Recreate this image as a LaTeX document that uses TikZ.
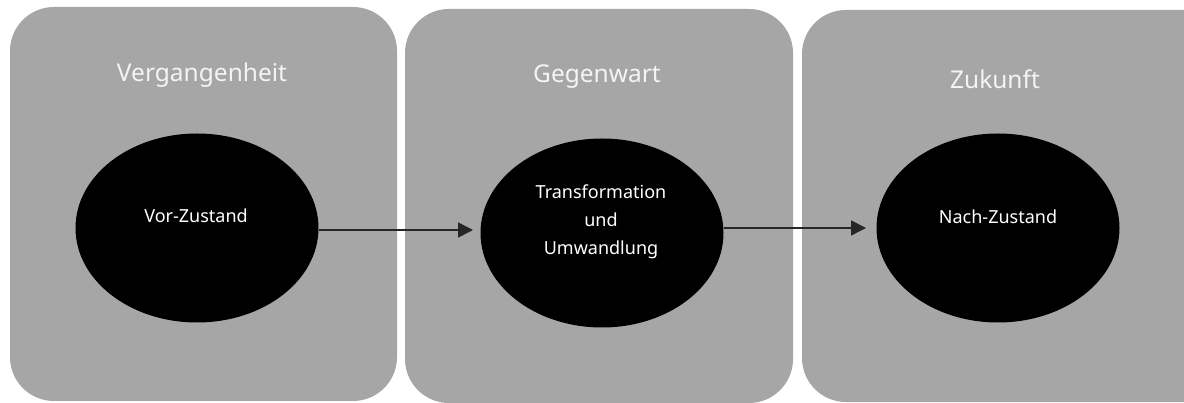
\documentclass[tikz,border=0pt]{standalone}
\usepackage{fontspec}
\setmainfont{Noto Sans}
\usetikzlibrary{shapes.geometric,arrows.meta}
\definecolor{panelgrey}{HTML}{A6A6A6}
\definecolor{titlewhite}{HTML}{F4F4F4}
\begin{document}
\begin{tikzpicture}[x=1pt,y=-1pt,
  panel/.style={fill=panelgrey,draw=none,rounded corners=44pt},
  paneltitle/.style={text=titlewhite,font=\fontsize{24.5}{28}\selectfont,inner sep=0pt,anchor=center},
  state/.style={ellipse,fill=black,draw=none,minimum width=243pt,minimum height=189pt,inner sep=0pt},
  statetext/.style={text=white,font=\fontsize{18}{28}\selectfont,align=center,inner sep=0pt},
  flow/.style={line width=1.6pt,draw=black!85,-{Triangle[length=15pt,width=15pt]}}]
  \useasboundingbox (0,0) rectangle (1184,403);
  \fill[white] (0,0) rectangle (1184,403);
  % three time panels
  \fill[panel] (10,7) rectangle (397,401);
  \fill[panel] (405,9) rectangle (793,403);
  \fill[panel] (802,10) rectangle (1230,402);
  \node[paneltitle] (t1) at (202,75) {Vergangenheit};
  \node[paneltitle] (t2) at (597,77) {Gegenwart};
  \node[paneltitle] (t3) at (995,79) {Zukunft};
  % states
  \node[state] (s1) at (197,228) {};
  \node[state] (s2) at (602,233) {};
  \node[state] (s3) at (998,228) {};
  \node[statetext] (l1) at (196,216) {Vor-Zustand};
  \node[statetext] (l2) at (601,222) {Transformation\\und\\Umwandlung};
  \node[statetext] (l3) at (998,217) {Nach-Zustand};
  % transitions
  \coordinate (a1) at (473,230);
  \coordinate (a2) at (866,228);
  \draw[flow] (s1.east |- a1) -- (a1);
  \draw[flow] (s2.east |- a2) -- (a2);
\end{tikzpicture}
\end{document}
